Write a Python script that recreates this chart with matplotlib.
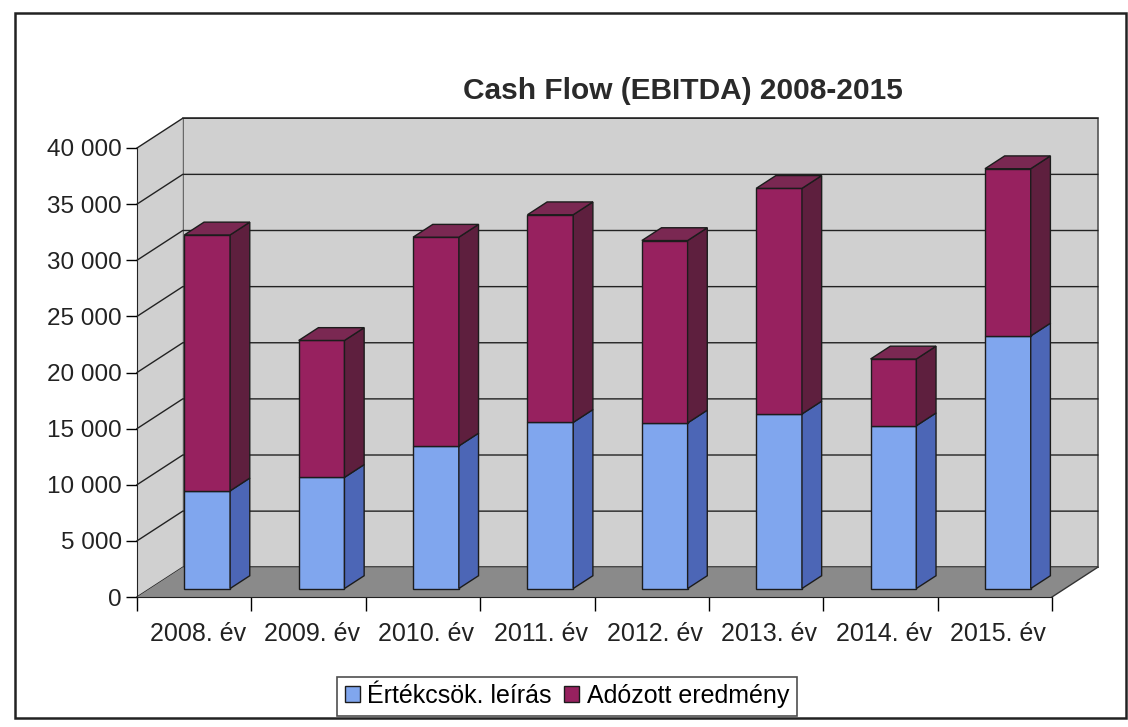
import matplotlib
matplotlib.use("Agg")
import matplotlib.pyplot as plt
from matplotlib.patches import Polygon, Rectangle, Patch
import numpy as np

plt.rcParams['font.family'] = ['Liberation Sans', 'DejaVu Sans']

# data
years = ["2008. év", "2009. év", "2010. év", "2011. év",
         "2012. év", "2013. év", "2014. év", "2015. év"]
ertekcsokkenes = [8700, 9900, 12700, 14800, 14750, 15550, 14500, 22500]
adozott = [22800, 12200, 18600, 18500, 16250, 20100, 5950, 14900]
y_ticks = [0, 5000, 10000, 15000, 20000, 25000, 30000, 35000, 40000]

# fake 3D geometry (in data units)
DX, DY = 0.40, 2650      # depth of the whole chart box
BAR_W = 0.40             # width of a bar's front face
DEPTH = 0.43             # bar depth as share of box depth
YMAX = 40000

blue_front, blue_side = '#80a6ee', '#4c66b6'
red_front, red_side, red_top = '#97215f', '#5e1f3e', '#7a2852'
edge = '#1c1c1c'

fig = plt.figure(figsize=(11.28, 7.27), dpi=100)
ax = fig.add_axes([137 / 1128, 130 / 727, 915 / 1128, 449 / 727])
ax.set_xlim(0, len(years))
ax.set_ylim(0, YMAX)


def face(pts, color, z, lw=1.0, ec=edge):
    ax.add_patch(Polygon(pts, closed=True, facecolor=color, edgecolor=ec,
                         linewidth=lw, zorder=z, clip_on=False))


n = len(years)
# walls and floor
face([(DX, DY), (n + DX, DY), (n + DX, YMAX + DY), (DX, YMAX + DY)], '#d0d0d0', 0, lw=1.2, ec='#555555')
face([(0, 0), (DX, DY), (DX, YMAX + DY), (0, YMAX)], '#d0d0d0', 0, lw=0)
face([(0, 0), (n, 0), (n + DX, DY), (DX, DY)], '#8a8a8a', 1, lw=0)
ax.plot([n, n + DX], [0, DY], color='#333333', lw=1, zorder=1.5, clip_on=False)

# gridlines on back wall and side wall
for v in y_ticks:
    ax.plot([0, DX, n + DX], [v, v + DY, v + DY], color='#222222', lw=1,
            zorder=0.5, clip_on=False)

# bars
ox, oy = (1 - DEPTH) / 2 * DX, (1 - DEPTH) / 2 * DY
bx, by = DEPTH * DX, DEPTH * DY
for i in range(n):
    x0 = i + 0.5 - BAR_W / 2 + ox
    x1 = x0 + BAR_W
    segs = [(0, ertekcsokkenes[i], blue_front, blue_side),
            (ertekcsokkenes[i], ertekcsokkenes[i] + adozott[i], red_front, red_side)]
    for b, t, fc, sc in segs:
        face([(x0, b + oy), (x1, b + oy), (x1, t + oy), (x0, t + oy)], fc, 3)
        face([(x1, b + oy), (x1 + bx, b + oy + by), (x1 + bx, t + oy + by), (x1, t + oy)], sc, 3)
    top = ertekcsokkenes[i] + adozott[i]
    face([(x0, top + oy), (x1, top + oy), (x1 + bx, top + oy + by), (x0 + bx, top + oy + by)], red_top, 3)

# axes
for s in ['top', 'right']:
    ax.spines[s].set_visible(False)
for s in ['left', 'bottom']:
    ax.spines[s].set_color('#222222')
    ax.spines[s].set_zorder(4)
ax.set_yticks(y_ticks)
ax.set_yticklabels([f"{v:,}".replace(",", " ") for v in y_ticks], fontsize=17.5, color='#222222')
ax.set_xticks(np.arange(n + 1))
ax.set_xticklabels([])
ax.set_xticks(np.arange(n) + 0.53, minor=True)
ax.set_xticklabels(years, minor=True, fontsize=18, color='#222222')
ax.tick_params(axis='y', length=8, width=1, pad=3)
ax.tick_params(axis='x', which='major', length=10, width=1)
ax.tick_params(axis='x', which='minor', length=0, pad=18)
ax.patch.set_visible(False)

fig.text(683 / 1128, 1 - 91 / 727, "Cash Flow (EBITDA) 2008-2015", ha='center', va='center',
         fontsize=21.5, fontweight='bold', color='#2a2a2a')

handles = [Patch(facecolor=blue_front, edgecolor=edge, label='Értékcsök. leírás'),
           Patch(facecolor=red_front, edgecolor=edge, label='Adózott eredmény')]
fig.legend(handles=handles, loc='center', bbox_to_anchor=(567 / 1128, 31 / 727), ncol=2,
           fontsize=18, frameon=True, fancybox=False, edgecolor='#222222',
           handlelength=0.6, handleheight=0.6, handletextpad=0.3, columnspacing=0.5,
           borderpad=0.3, borderaxespad=0).get_frame().set_linewidth(1.2)

fig.add_artist(Rectangle((15 / 1128, 9 / 727), 1111 / 1128, 705 / 727, transform=fig.transFigure,
                         fill=False, edgecolor='#222222', linewidth=1.8))

fig.savefig('out.png', dpi=100)
